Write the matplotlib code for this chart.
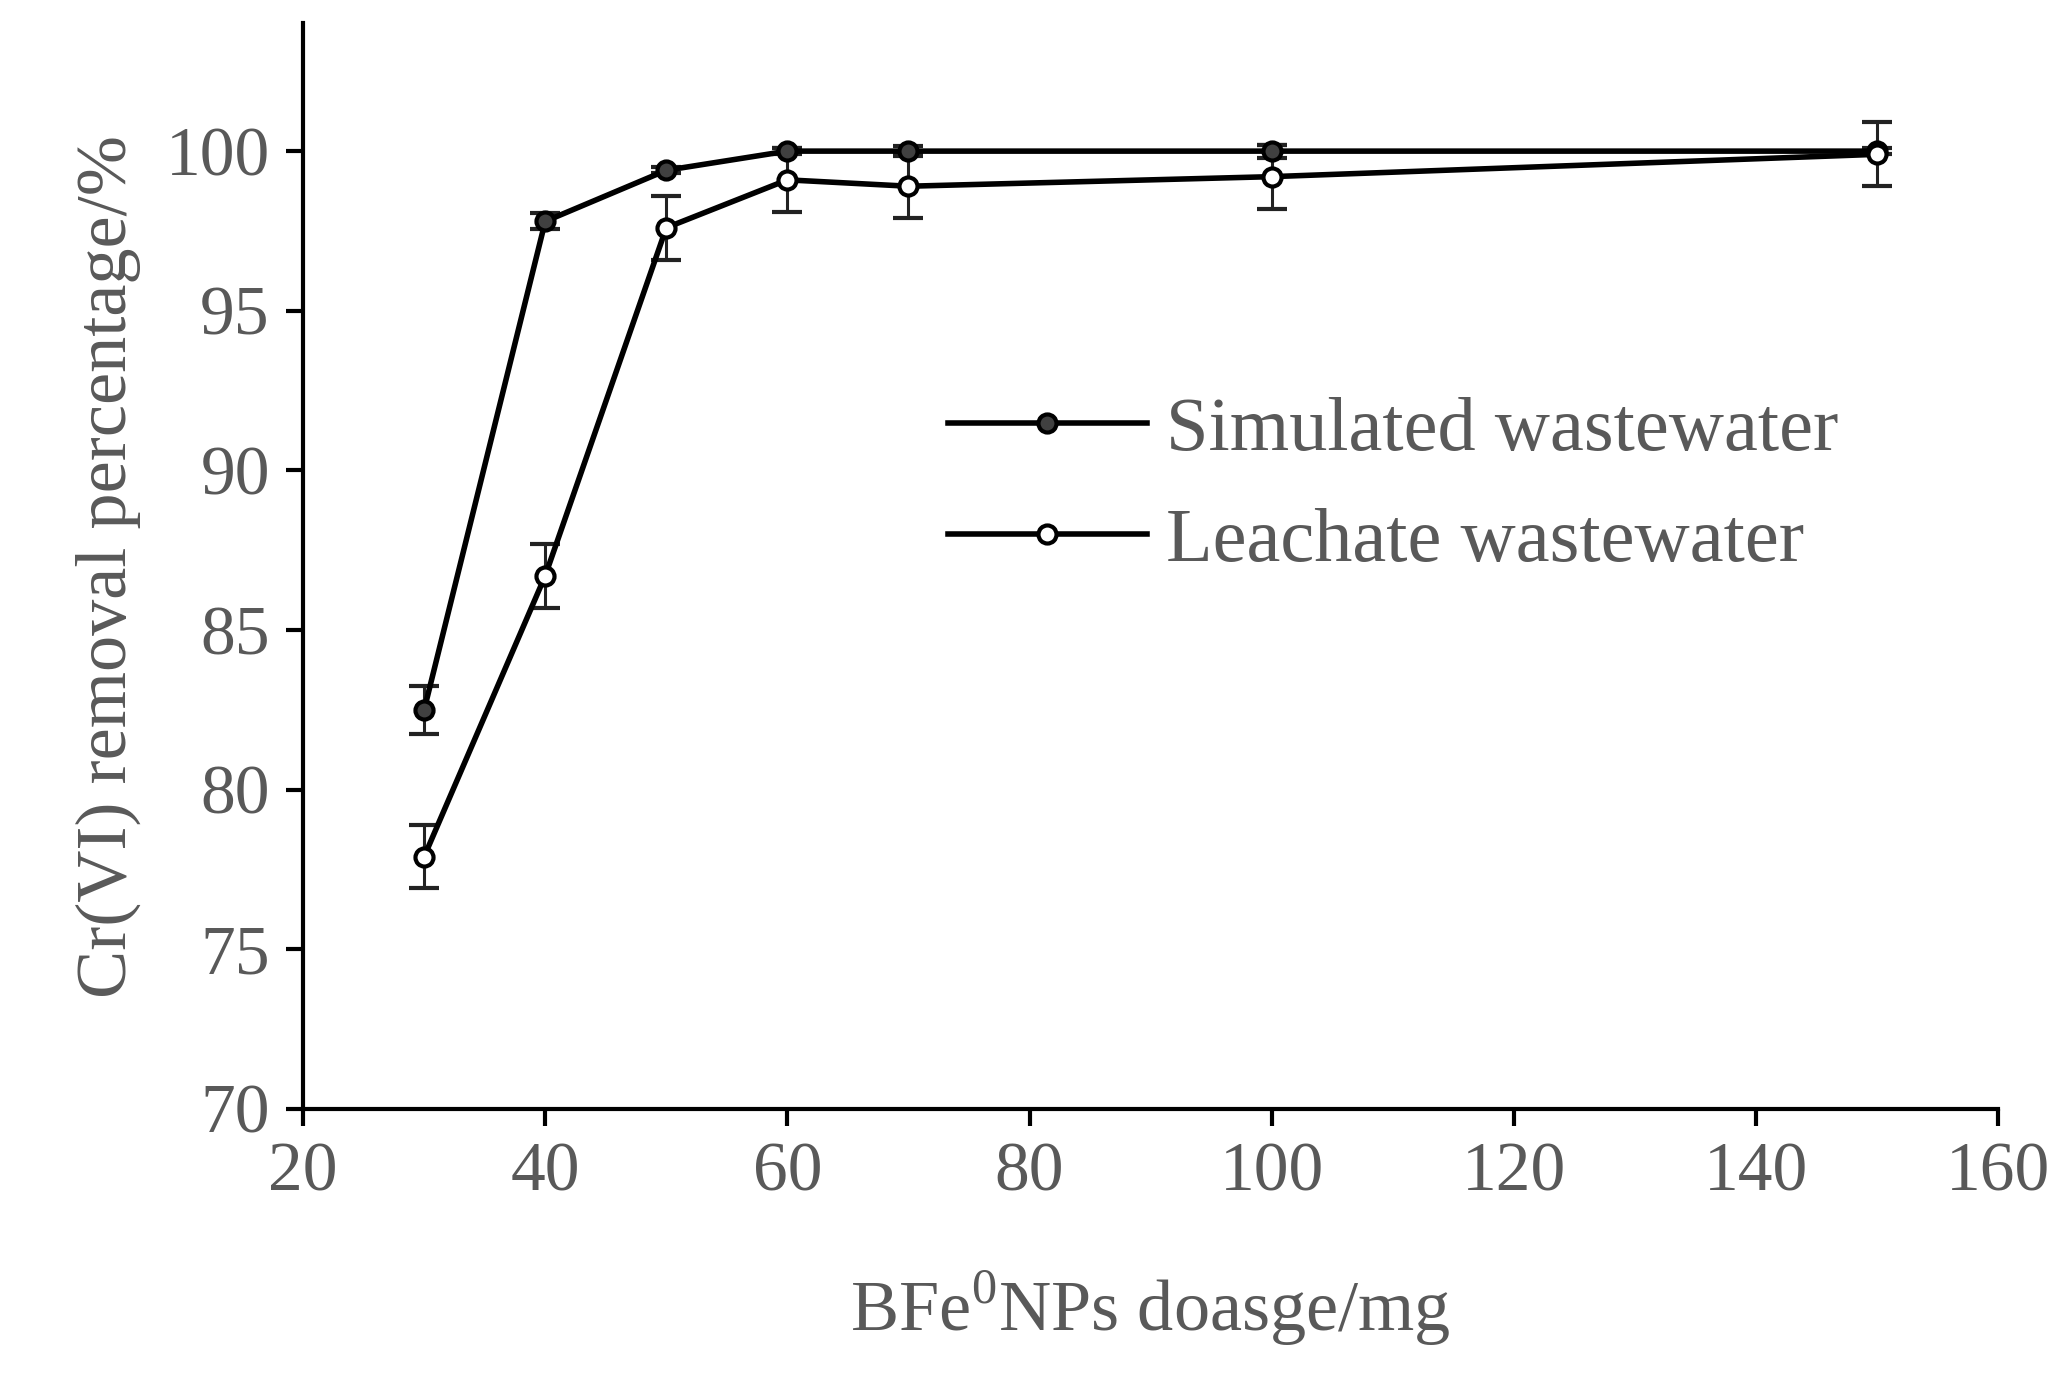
import matplotlib.pyplot as plt

dosage = [30, 40, 50, 60, 70, 100, 150]
simulated = [82.5, 97.8, 99.4, 100.0, 100.0, 100.0, 100.0]
simulated_err = [0.75, 0.25, 0.1, 0.1, 0.15, 0.2, 0.1]
leachate = [77.9, 86.7, 97.6, 99.1, 98.9, 99.2, 99.9]
leachate_err = [1.0, 1.0, 1.0, 1.0, 1.0, 1.0, 1.0]

plt.rcParams['font.family'] = ['Liberation Serif', 'DejaVu Serif']
plt.rcParams['mathtext.fontset'] = 'custom'
plt.rcParams['mathtext.rm'] = 'Liberation Serif'
gray = '#595959'

fig = plt.figure(figsize=(20.62, 13.79), dpi=100)
ax = fig.add_axes([0.147, 0.196, 0.822, 0.787])

ax.errorbar(dosage, simulated, yerr=simulated_err, color='black', lw=4,
            marker='o', ms=13, mfc='#404040', mec='black', mew=3,
            ecolor='#222222', elinewidth=2.2, capsize=11, capthick=2.2,
            label='Simulated wastewater')
ax.errorbar(dosage, leachate, yerr=leachate_err, color='black', lw=4,
            marker='o', ms=13, mfc='white', mec='black', mew=3,
            ecolor='#222222', elinewidth=2.2, capsize=11, capthick=2.2,
            label='Leachate wastewater')

ax.set_xlim(20, 160)
ax.set_ylim(70, 104)
ax.set_xticks(range(20, 161, 20))
ax.set_yticks(range(70, 101, 5))
ax.spines['top'].set_visible(False)
ax.spines['right'].set_visible(False)
for s in ('left', 'bottom'):
    ax.spines[s].set_linewidth(3)
ax.tick_params(axis='both', labelsize=50, labelcolor=gray, width=3, length=12, pad=12)

ax.set_xlabel(r'BFe$^{\mathrm{0}}$NPs doasge/mg', fontsize=52, color=gray, labelpad=45)
ax.set_ylabel('Cr(VI) removal percentage/%', fontsize=52, color=gray, labelpad=18)

handles, labels = ax.get_legend_handles_labels()
handles = [h[0] for h in handles]
leg = ax.legend(handles, labels, loc='upper left', bbox_to_anchor=(0.34, 0.72),
                frameon=False, fontsize=55, handlelength=2.6, labelspacing=0.55,
                handletextpad=0.25)
for t in leg.get_texts():
    t.set_color(gray)

fig.savefig('out.png', dpi=100)
